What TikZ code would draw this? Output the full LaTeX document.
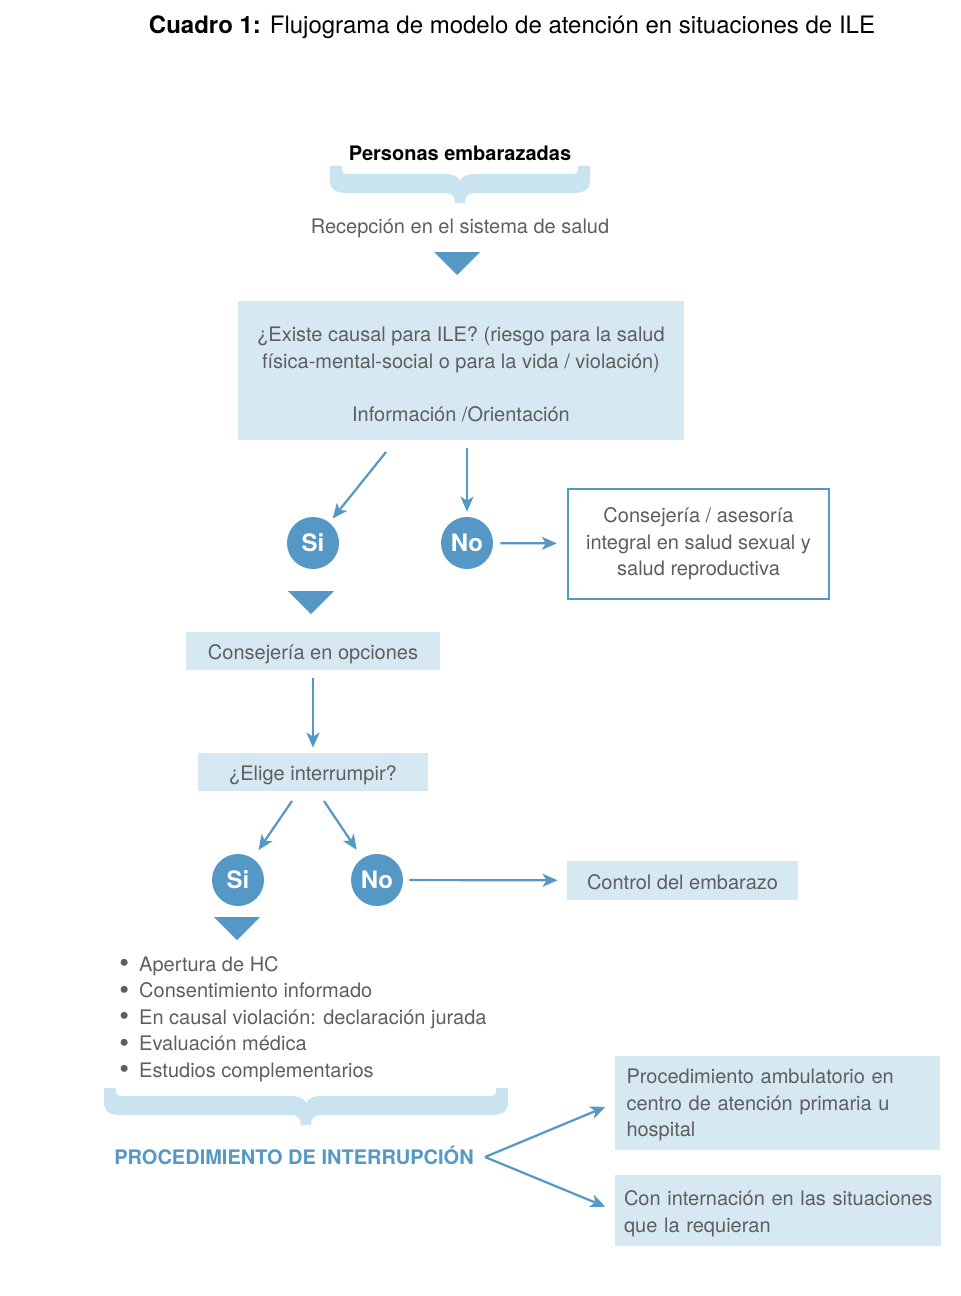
\documentclass[tikz,border=0pt]{standalone}
\usepackage{fontspec}
\setmainfont{TeX Gyre Heros}
\usetikzlibrary{arrows.meta}
\definecolor{ilelight}{HTML}{D6E8F2}
\definecolor{ilepale}{HTML}{C9E3F0}
\definecolor{iledark}{HTML}{5597C5}
\definecolor{iletext}{HTML}{5E5E5E}
\tikzstyle{lightbox} = [fill=ilelight, text=iletext, inner sep=0pt, align=center]
\tikzstyle{onelinebox} = [lightbox, text height=8.5pt, text depth=0pt]
\tikzstyle{linebox} = [draw=iledark, line width=1.2pt, fill=white, text=iletext, inner sep=0pt, align=center]
\tikzstyle{answer} = [circle, fill=iledark, text=white, minimum size=26pt, inner sep=0pt, font=\bfseries\fontsize{12}{14}\selectfont]
\tikzstyle{plain} = [text=iletext, align=center]
\tikzstyle{arr} = [-{Stealth[length=7.5pt,width=6.5pt,inset=2pt]}, draw=iledark, line width=1.1pt]
% curly brace: left x, right x, top y
\newcommand{\ilebrace}[3]{%
  \pgfmathsetmacro{\bracemid}{(#1+#2)/2}%
  \fill [ilepale] (#1,#3) -- (#1,{#3+14}) .. controls (#1,{#3+24}) and ({#1+6},{#3+27}) .. ({#1+18},{#3+27})
    -- ({\bracemid-16},{#3+27}) .. controls ({\bracemid-8},{#3+27}) and ({\bracemid-5},{#3+30}) .. ({\bracemid-5},{#3+37})
    -- ({\bracemid+5},{#3+37}) .. controls ({\bracemid+5},{#3+30}) and ({\bracemid+8},{#3+27}) .. ({\bracemid+16},{#3+27})
    -- ({#2-18},{#3+27}) .. controls ({#2-6},{#3+27}) and (#2,{#3+24}) .. (#2,{#3+14})
    -- (#2,#3) -- ({#2-12},#3) -- ({#2-12},{#3+4}) .. controls ({#2-12},{#3+7}) and ({#2-14},{#3+8}) .. ({#2-20},{#3+8})
    -- ({\bracemid+16},{#3+8}) .. controls ({\bracemid+6},{#3+8}) and ({\bracemid+1},{#3+11}) .. (\bracemid,{#3+15})
    .. controls ({\bracemid-1},{#3+11}) and ({\bracemid-6},{#3+8}) .. ({\bracemid-16},{#3+8})
    -- ({#1+20},{#3+8}) .. controls ({#1+14},{#3+8}) and ({#1+12},{#3+7}) .. ({#1+12},{#3+4}) -- ({#1+12},#3) -- cycle;}
% down triangle: tip x, top y
\newcommand{\iletri}[2]{\fill [iledark] ({#1-23},#2) -- ({#1+23},#2) -- (#1,{#2+23}) -- cycle;}
\newcommand{\ilebullet}{\raisebox{-0.7pt}{\fontsize{14}{13}\selectfont\textbullet}\enspace}

\begin{document}
\begin{tikzpicture}[x=0.5pt, y=-0.5pt, every node/.style={font=\fontsize{10}{13.25}\selectfont}]
    \useasboundingbox (0,0) rectangle (960,1296);

    % Title
    \node [font=\fontsize{12}{14}\selectfont] (title) at (512,27) {\textbf{Cuadro 1:} Flujograma de modelo de atención en situaciones de ILE};

    % Reception
    \node [font=\bfseries\fontsize{10}{13}\selectfont] (personas) at (460,153) {Personas embarazadas};
    \ilebrace{330}{590}{166}
    \node [plain] (recepcion) at (460,228) {Recepción en el sistema de salud};
    \iletri{457}{252}

    % First decision
    \node [lightbox, minimum width=223pt, minimum height=69.5pt] (causal) at (461,370.5)
        {\rule{0pt}{11pt}¿Existe causal para ILE? (riesgo para la salud\\física-mental-social o para la vida / violación)\\[13.25pt]Información /Orientación};
    \node [answer] (si1) at (313,543) {Si};
    \node [answer] (no1) at (467,543) {No};
    \node [linebox, minimum width=130.5pt, minimum height=55pt] (integral) at (698.5,544)
        {Consejería / asesoría\\integral en salud sexual y\\salud reproductiva};
    \iletri{311}{591}

    % Second decision
    \node [onelinebox, minimum width=127pt, minimum height=19pt] (opciones) at (313,651) {Consejería en opciones};
    \node [onelinebox, minimum width=115pt, minimum height=19pt] (elige) at (313,772) {¿Elige interrumpir?};
    \node [answer] (si2) at (238,880) {Si};
    \node [answer] (no2) at (377,880) {No};
    \node [onelinebox, minimum width=115.5pt, minimum height=19.5pt] (control) at (682.5,880.5) {Control del embarazo};
    \iletri{237}{917}

    % Procedure
    \node [plain, anchor=west, align=left, inner sep=0pt] (pasos) at (119,1019)
        {\ilebullet Apertura de HC\\
         \ilebullet Consentimiento informado\\
         \ilebullet En causal violación: declaración jurada\\
         \ilebullet Evaluación médica\\
         \ilebullet Estudios complementarios};
    \ilebrace{104}{508}{1088}
    \node [font=\bfseries\fontsize{10}{13}\selectfont, text=iledark] (proc) at (294,1155) {PROCEDIMIENTO DE INTERRUPCIÓN};
    \node [lightbox, align=left, minimum height=47pt, inner xsep=5.75pt, text width=151pt] (ambulatorio) at (777.5,1103)
        {\rule{0pt}{9.5pt}\mbox{Procedimiento ambulatorio en}\\\mbox{centro de atención primaria u}\\hospital};
    \node [lightbox, align=left, minimum height=35.5pt, inner xsep=4.5pt, text width=154pt] (internacion) at (778,1210.5)
        {\rule{0pt}{10.5pt}\mbox{Con internación en las situaciones}\\\mbox{que la requieran}};

    % Connecting the nodes
    \coordinate (c1) at (386,452);
    \coordinate (c2) at (467,448);
    \coordinate (c3) at (292,801);
    \coordinate (c4) at (324,801);
    \coordinate (fork) at (485,1157);
    \draw [arr, shorten >=2.5pt] (c1) -- (si1);
    \draw [arr, shorten >=2.5pt] (c2) -- (no1);
    \draw [arr, shorten <=3.5pt, shorten >=5pt] (no1) -- (integral);
    \draw [arr, shorten <=4pt, shorten >=2.5pt] (opciones) -- (elige);
    \draw [arr, shorten >=5pt] (c3) -- (si2);
    \draw [arr, shorten >=5pt] (c4) -- (no2);
    \draw [arr, shorten <=3pt, shorten >=4.5pt] (no2) -- (control);
    \draw [arr, shorten >=5pt] (fork) -- (ambulatorio.west);
    \draw [arr, shorten >=5pt] (fork) -- (internacion.west);
\end{tikzpicture}
\end{document}
